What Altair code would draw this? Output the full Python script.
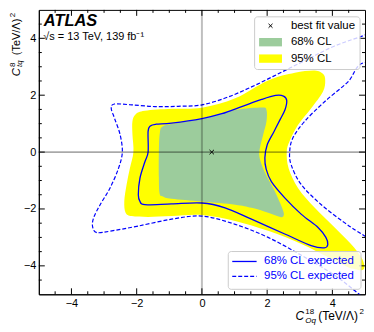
import altair as alt
import pandas as pd

# ---------------- data ----------------
# observed 95% CL region (yellow)
obs95_x = [-2.13, -2.03, -1.75, -0.93, 0.0, 1.02, 2.03, 2.85, 3.46, 3.71, 3.78, 3.71, 3.35, 2.95, 2.69,
           2.60, 2.66, 2.95, 3.46, 4.07, 4.57, 4.88, 4.98, 4.92, 4.70, 4.47, 3.86, 3.05, 2.03, 1.02,
           0.0, -0.93, -1.65, -2.15, -2.34, -2.38, -2.31, -2.21, -2.10, -2.13]
obs95_y = [1.08, 1.33, 1.45, 1.52, 1.56, 1.89, 2.52, 2.79, 2.87, 2.75, 2.52, 2.12, 1.54, 0.96, 0.39,
           0.0, -0.58, -1.27, -1.96, -2.65, -3.23, -3.69, -4.00, -4.15, -4.12, -4.04, -3.69, -3.23, -2.77, -2.42,
           -2.21, -2.25, -2.28, -2.25, -2.13, -1.73, -1.15, -0.58, 0.0, 0.62]
# observed 68% CL region (green)
obs68_x = [-1.29, -1.19, -0.73, 0.0, 1.02, 1.83, 1.98, 1.98, 1.88, 1.78, 1.76, 1.85, 1.98, 2.20, 2.38,
           2.50, 2.50, 2.40, 2.03, 1.52, 1.02, 0.0, -0.93, -1.20, -1.30, -1.32, -1.32]
obs68_y = [0.67, 0.91, 1.02, 1.17, 1.48, 1.57, 1.48, 1.08, 0.62, 0.16, -0.14, -0.50, -0.83, -1.30, -1.75,
           -2.10, -2.25, -2.28, -2.13, -1.96, -1.85, -1.74, -1.64, -1.56, -1.45, -0.90, 0.0]
# expected 68% CL contour (solid blue)
exp68_x = [-1.65, -1.65, -1.58, -1.40, -0.93, 0.0, 0.61, 1.22, 1.83, 2.26, 2.50, 2.60, 2.55, 2.40, 2.20,
           2.00, 1.93, 1.97, 2.13, 2.54, 3.05, 3.56, 3.80, 3.86, 3.75, 3.35, 2.54, 1.52, 0.71, 0.0,
           -0.93, -1.75, -1.90, -1.95, -1.90, -1.75]
exp68_y = [0.0, 0.73, 0.92, 0.98, 1.02, 1.18, 1.35, 1.60, 1.85, 1.99, 1.97, 1.82, 1.50, 1.15, 0.70,
           0.25, -0.20, -0.60, -1.04, -1.61, -2.19, -2.65, -3.00, -3.25, -3.37, -3.29, -2.88, -2.36, -1.96, -1.79,
           -1.82, -1.85, -1.73, -1.50, -0.92, -0.35]
# expected 95% CL contour (dashed blue), leaves the frame on the right
exp95_x = [6.5, 5.03, 4.47, 3.76, 3.15, 2.79, 2.69, 2.74, 3.05, 3.66, 4.37, 4.98, 6.5, 6.5, 5.4,
           4.78, 4.07, 3.05, 2.03, 1.02, 0.0, -0.93, -1.95, -2.76, -3.22, -3.35, -3.32, -3.12, -2.82, -2.56,
           -2.44, -2.51, -2.68, -2.78, -2.68, -2.15, -1.44, -0.73, 0.0, 0.81, 1.63, 2.44, 3.25, 4.07, 5.03,
           6.5, 6.5]
exp95_y = [2.6, 3.15, 2.46, 1.77, 1.08, 0.50, 0.0, -0.46, -1.15, -1.85, -2.48, -2.94, -4.0, -6.5, -5.5,
           -4.96, -4.33, -3.63, -3.00, -2.54, -2.25, -2.36, -2.60, -2.77, -2.83, -2.63, -2.31, -1.85, -1.27, -0.58,
           0.0, 0.62, 1.19, 1.54, 1.69, 1.66, 1.60, 1.61, 1.66, 1.94, 2.35, 2.81, 3.27, 3.73, 4.13,
           4.8, 2.6]
best_fit_x = [0.3]
best_fit_y = [0.0]
major_ticks = [-4, -2, 0, 2, 4]
minor_ticks = [-4.5, -3.5, -3, -2.5, -1.5, -1, -0.5, 0.5, 1, 1.5, 2.5, 3, 3.5, 4.5]
legend1_labels = ["best fit value", "68% CL", "95% CL"]
legend2_labels = ["68% CL expected", "95% CL expected"]

# ---------------- styling ----------------
FONT = "Liberation Sans"
W, H = 328, 286
GREEN = "#9ccc9c"
YELLOW = "#ffff00"
BLUE = "#0000ff"
XPATH = "M-1,-1L1,1M-1,1L1,-1"

xsc = alt.Scale(domain=[-5, 5], nice=False, zero=False)
ysc = alt.Scale(domain=[-5, 5], nice=False, zero=False)
axis_opts = dict(ticks=False, grid=False, title=None, labelFont=FONT, labelFontSize=11,
                 labelColor="black", labelPadding=3, domainColor="black", domainWidth=1,
                 values=major_ticks, format="d")


def X(f):
    return alt.X(f, type="quantitative", scale=xsc, axis=alt.Axis(**axis_opts))


def Y(f):
    return alt.Y(f, type="quantitative", scale=ysc, axis=alt.Axis(**axis_opts))


def contour_df(xs, ys):
    return pd.DataFrame({"x": xs, "y": ys, "i": list(range(len(xs)))})


def region(xs, ys, color):
    return alt.Chart(contour_df(xs, ys)).mark_line(
        fill=color, strokeWidth=0, strokeOpacity=0, clip=True, interpolate="cardinal-closed"
    ).encode(x=X("x"), y=Y("y"), order="i:Q")


def text(t, x, y, size, **kw):
    opts = dict(align="left", baseline="alphabetic", font=FONT, fontSize=size, color="black")
    opts.update(kw)
    return alt.Chart(pd.DataFrame({"t": [t]})).mark_text(**opts).encode(
        x=alt.value(x), y=alt.value(y), text="t:N")


def yticks(vals, length):
    df = pd.DataFrame({"v": vals})
    left = alt.Chart(df).mark_rule(color="black", strokeWidth=1).encode(
        y=Y("v"), x=alt.value(0), x2=alt.value(length))
    right = alt.Chart(df).mark_rule(color="black", strokeWidth=1).encode(
        y=Y("v"), x=alt.value(W - length), x2=alt.value(W))
    return [left, right]


def xticks(vals, length):
    df = pd.DataFrame({"v": vals})
    bottom = alt.Chart(df).mark_rule(color="black", strokeWidth=1).encode(
        x=X("v"), y=alt.value(H - length), y2=alt.value(H))
    top = alt.Chart(df).mark_rule(color="black", strokeWidth=1).encode(
        x=X("v"), y=alt.value(0), y2=alt.value(length))
    return [bottom, top]


layers = []
layers.append(region(obs95_x, obs95_y, YELLOW))
layers.append(region(obs68_x, obs68_y, GREEN))
layers.append(alt.Chart(contour_df(exp68_x, exp68_y)).mark_line(
    color=BLUE, strokeWidth=1.3, clip=True, interpolate="cardinal-closed"
).encode(x=X("x"), y=Y("y"), order="i:Q"))
layers.append(alt.Chart(contour_df(exp95_x, exp95_y)).mark_line(
    color=BLUE, strokeWidth=1.2, strokeDash=[4, 2], clip=True, interpolate="cardinal"
).encode(x=X("x"), y=Y("y"), order="i:Q"))

zero = pd.DataFrame({"v": [0]})
layers.append(alt.Chart(zero).mark_rule(color="black", opacity=0.25, strokeWidth=2).encode(x=X("v")))
layers.append(alt.Chart(zero).mark_rule(color="black", opacity=0.6, strokeWidth=1).encode(y=Y("v")))

layers.append(alt.Chart(pd.DataFrame({"x": best_fit_x, "y": best_fit_y})).mark_point(
    shape=XPATH, size=20, filled=False, color="black", strokeWidth=1, opacity=1
).encode(x=X("x"), y=Y("y")))

# ticks (inside, all four sides)
layers += yticks(major_ticks, 6) + yticks(minor_ticks, 3)
layers += xticks(major_ticks, 6) + xticks(minor_ticks, 3)

# ATLAS label
layers.append(text("ATLAS", 5, 16.5, 16.5, fontWeight="bold", fontStyle="italic"))
layers.append(text("\u221as = 13 TeV, 139 fb\u207b\u00b9", 4.5, 30.5, 11))

# legend 1 (top right)
box1 = alt.Chart(pd.DataFrame({"a": [0]})).mark_rect(
    fill="white", fillOpacity=0.8, stroke="#cccccc", strokeWidth=1, cornerRadius=3
).encode(x=alt.value(217), x2=alt.value(323), y=alt.value(7), y2=alt.value(60))
layers.append(box1)
layers.append(alt.Chart(pd.DataFrame({"a": [0]})).mark_point(
    shape=XPATH, size=16, filled=False, color="black", strokeWidth=1, opacity=1
).encode(x=alt.value(233), y=alt.value(16)))
for yy, col in [(32.5, GREEN), (49, YELLOW)]:
    layers.append(alt.Chart(pd.DataFrame({"a": [0]})).mark_rect(fill=col).encode(
        x=alt.value(221.5), x2=alt.value(244.5), y=alt.value(yy - 4.2), y2=alt.value(yy + 4.2)))
for lab, yy in zip(legend1_labels, [16, 32.5, 49]):
    layers.append(text(lab, 253.5, yy, 11.5, baseline="middle"))

# legend 2 (bottom right)
box2 = alt.Chart(pd.DataFrame({"a": [0]})).mark_rect(
    fill="white", fillOpacity=0.8, stroke="#cccccc", strokeWidth=1, cornerRadius=3
).encode(x=alt.value(190.5), x2=alt.value(324), y=alt.value(H - 43), y2=alt.value(H - 5))
layers.append(box2)
layers.append(alt.Chart(pd.DataFrame({"a": [0]})).mark_rule(color=BLUE, strokeWidth=1.3).encode(
    x=alt.value(194.5), x2=alt.value(219), y=alt.value(H - 33)))
layers.append(alt.Chart(pd.DataFrame({"a": [0]})).mark_rule(color=BLUE, strokeWidth=1.2, strokeDash=[4, 2]).encode(
    x=alt.value(194.5), x2=alt.value(219), y=alt.value(H - 18)))
for lab, yy in zip(legend2_labels, [H - 33, H - 18]):
    layers.append(text(lab, 226.5, yy, 11.5, baseline="middle", color=BLUE))

# x-axis title: C_{Oq}^{18} (TeV/Λ)^2
layers.append(text("C", 258, H + 26, 12, fontStyle="italic"))
layers.append(text("18", 268, H + 20, 8))
layers.append(text("Oq", 268, H + 28.5, 8, fontStyle="italic"))
layers.append(text("(TeV/\u039b)", 281, H + 26, 12))
layers.append(text("2", 322.5, H + 20, 8))

# y-axis title: C_{tq}^{8} (TeV/Λ)^2 (rotated)
layers.append(text("C", -18.5, 66.7, 11.5, fontStyle="italic", angle=270))
layers.append(text("8", -24.4, 57.5, 8, angle=270))
layers.append(text("tq", -17.3, 57.5, 8, fontStyle="italic", angle=270))
layers.append(text("(TeV/\u039b)", -18.8, 45.5, 11, angle=270))
layers.append(text("2", -24.4, 7.5, 8, angle=270))

chart = alt.layer(*layers).properties(width=W, height=H, padding=0).configure_view(
    stroke="black", strokeWidth=1)

chart.save("out.html", embed_options={"renderer": "svg", "actions": False})
